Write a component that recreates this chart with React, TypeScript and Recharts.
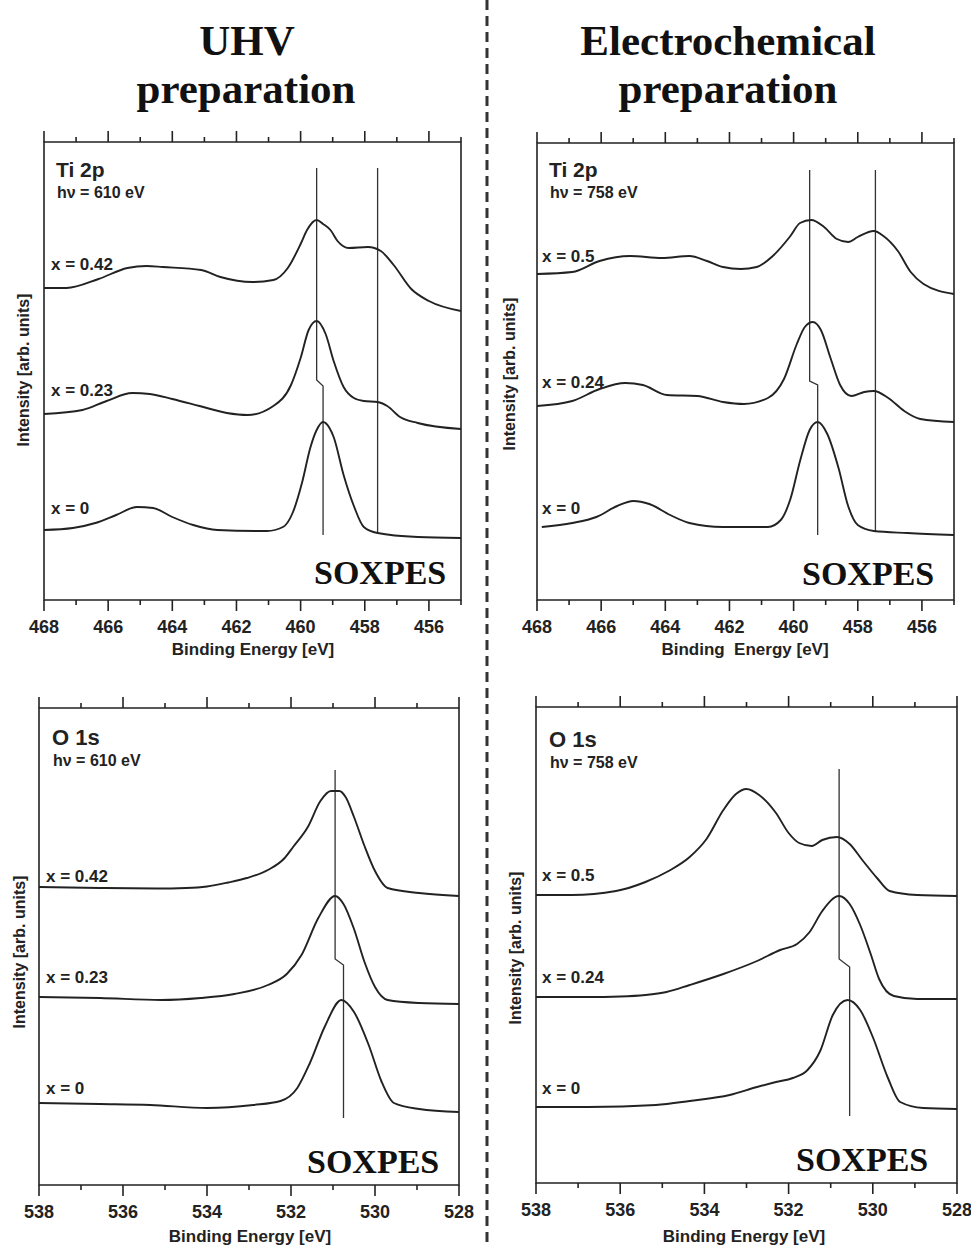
import React from "react";
import { LineChart, Line, XAxis, YAxis, ReferenceArea } from "recharts";

type Pt = [number, number];

// binding energy [eV], intensity [arb. units] (offset stacked as in the figure)
// --- Ti 2p, UHV preparation (hv = 610 eV)
const tiUhv042: Pt[] = [[468, 312], [467.3, 312], [466.3, 321], [465.4, 332], [464.8, 334], [464.3, 333], [463.1, 330], [462.5, 323], [461.5, 318], [460.85, 320], [460.4, 332], [460.0, 356], [459.8, 370], [459.5, 380], [459.3, 376], [459.07, 370], [458.85, 359], [458.5, 352], [457.9, 353], [457.5, 349], [457.1, 335], [456.55, 311], [456.0, 299], [455, 289]];
const tiUhv023: Pt[] = [[468, 186], [466.8, 190], [466.05, 199], [465.25, 207], [464.7, 206], [464.0, 201], [463.15, 194], [462.3, 187], [461.65, 185], [460.85, 194], [460.3, 215], [460.0, 242], [459.75, 270], [459.5, 279], [459.22, 266], [458.97, 239], [458.66, 213], [458.34, 202], [458.03, 199], [457.6, 198], [457.3, 194], [456.9, 183], [456.35, 177], [455, 171]];
const tiUhv0: Pt[] = [[468, 70], [467.1, 72], [466.4, 77], [465.75, 85], [465.1, 93], [464.6, 92], [464.0, 83], [463.35, 75], [462.6, 70], [461.05, 69], [460.55, 73], [460.25, 87], [459.95, 118], [459.7, 152], [459.5, 170], [459.3, 178], [459.1, 172], [458.97, 163], [458.66, 125], [458.34, 94], [458.03, 73], [457.6, 67], [456.35, 63], [455, 62]];
const tiUhvGuideA: Pt[] = [[459.5, 432], [459.5, 220], [459.3, 214], [459.3, 65]];
const tiUhvGuideB: Pt[] = [[457.6, 432], [457.6, 66]];

// --- Ti 2p, electrochemical preparation (hv = 758 eV)
const tiEc05: Pt[] = [[468, 326], [466.9, 328], [466.05, 339], [465.1, 344], [464.1, 342], [463.25, 344], [462.7, 339], [462.2, 333], [461.65, 331], [461.15, 333], [460.65, 344], [460.1, 364], [459.8, 377], [459.45, 380], [459.05, 373], [458.65, 361], [458.3, 358], [458.0, 363], [457.5, 369], [457.2, 364], [456.75, 349], [456.35, 328], [455.95, 316], [455, 306]];
const tiEc024: Pt[] = [[468, 194], [466.9, 199], [466.05, 211], [465.25, 217], [464.7, 215], [463.95, 205], [463.0, 204], [462.2, 198], [461.55, 196], [460.8, 202], [460.3, 221], [459.9, 256], [459.65, 273], [459.4, 278], [459.15, 270], [458.85, 242], [458.55, 215], [458.2, 204], [457.8, 208], [457.5, 209], [457.05, 202], [456.55, 189], [456.05, 181], [455, 178]];
const tiEc0: Pt[] = [[467.85, 73], [466.9, 77], [466.15, 83], [465.5, 94], [465.0, 99], [464.5, 96], [463.85, 85], [463.25, 77], [462.2, 73], [460.8, 73], [460.4, 80], [460.1, 101], [459.8, 139], [459.5, 170], [459.25, 178], [458.95, 166], [458.6, 132], [458.3, 94], [458.0, 75], [457.5, 69], [456.45, 67], [455, 65]];
const tiEcGuideA: Pt[] = [[459.5, 430], [459.5, 219], [459.25, 215], [459.25, 65]];
const tiEcGuideB: Pt[] = [[457.45, 430], [457.45, 68]];

// --- O 1s, UHV preparation (hv = 610 eV)
const oUhv042: Pt[] = [[538, 298], [536.55, 297], [535.2, 296.5], [534.5, 297], [534.0, 298.5], [533.5, 302.5], [533.05, 307], [532.55, 315], [532.15, 327], [531.95, 338], [531.6, 358], [531.3, 384], [531.05, 394], [530.85, 394], [530.7, 388], [530.5, 368], [530.25, 339], [530.0, 314], [529.7, 297], [528.95, 292], [528, 289]];
const oUhv023: Pt[] = [[538, 188], [536.55, 187], [535.1, 185], [534.15, 187], [533.35, 191], [532.55, 200], [532.1, 211], [531.75, 230], [531.35, 267], [530.95, 289], [530.75, 281], [530.5, 256], [530.25, 223], [530.0, 198], [529.7, 185], [528.95, 182], [528, 181]];
const oUhv0: Pt[] = [[538, 82], [536.55, 81], [535.35, 80], [534.0, 77], [532.9, 80], [532.25, 84], [531.85, 97], [531.55, 122], [531.2, 158], [530.8, 185], [530.5, 173], [530.15, 140], [529.85, 104], [529.55, 82], [528.95, 76], [528, 73]];
const oUhvGuide: Pt[] = [[530.95, 415], [530.95, 226], [530.75, 220], [530.75, 67]];

// --- O 1s, electrochemical preparation (hv = 758 eV)
const oEc05: Pt[] = [[538, 288], [537.15, 288], [536.1, 292], [535.4, 301], [534.85, 312], [534.35, 326], [533.95, 344], [533.55, 373], [533.25, 389], [533.0, 394], [532.7, 388], [532.3, 370], [532.0, 350], [531.75, 340], [531.45, 337], [531.2, 343], [530.85, 346], [530.55, 339], [530.25, 323], [529.9, 305], [529.6, 292], [528.95, 288], [528, 287]];
const oEc024: Pt[] = [[538, 186], [536.75, 186], [536.0, 186.5], [535.4, 188], [534.9, 191], [534.35, 198], [533.55, 209], [532.75, 222], [532.2, 233], [531.8, 239], [531.5, 251], [531.2, 272], [530.8, 287], [530.55, 279], [530.3, 258], [530.05, 229], [529.85, 204], [529.5, 187], [528.95, 184], [528, 184]];
const oEc0: Pt[] = [[538, 76], [536.75, 76], [535.15, 78], [534.35, 82], [533.4, 88], [532.75, 96], [532.3, 101], [531.9, 105], [531.55, 113], [531.25, 132], [530.95, 168], [530.6, 183], [530.3, 173], [530.0, 146], [529.65, 106], [529.35, 81], [528.8, 75], [528, 74]];
const oEcGuide: Pt[] = [[530.8, 414], [530.8, 224], [530.55, 216], [530.55, 67]];

const tiTicks = [468, 467, 466, 465, 464, 463, 462, 461, 460, 459, 458, 457, 456, 455];
const oTicks = [538, 537, 536, 535, 534, 533, 532, 531, 530, 529, 528];

const SANS = '"Liberation Sans", Arial, Helvetica, sans-serif';
const SERIF = '"Liberation Serif", "Times New Roman", serif';
const INK = "#222";

const rows = (pts: Pt[]) => pts.map(([e, i]) => ({ e, i }));

function BottomTick(props: any) {
  const { x, y, payload } = props;
  const major = payload.value % 2 === 0;
  return (
    <g>
      <line x1={x} y1={y} x2={x} y2={y + (major ? 11 : 5)} stroke={INK} strokeWidth={1.6} />
      {major && (
        <text x={x} y={y + 33} textAnchor="middle" fontSize={18} fontWeight="bold" fill={INK} fontFamily={SANS}>
          {payload.value}
        </text>
      )}
    </g>
  );
}

function TopTick(props: any) {
  const { x, y, payload } = props;
  const major = payload.value % 2 === 0;
  return <line x1={x} y1={y} x2={x} y2={y - (major ? 11 : 5)} stroke={INK} strokeWidth={1.6} />;
}

interface PanelProps {
  left: number;
  top: number;
  w: number;
  h: number;
  domain: [number, number];
  ticks: number[];
  curves: Pt[][];
  guides: Pt[][];
}

function Panel({ left, top, w, h, domain, ticks, curves, guides }: PanelProps) {
  const m = { top: 4, right: 24, left: 24, bottom: 0 };
  const topAxisH = 16;
  const bottomAxisH = 40;
  return (
    <div style={{ position: "absolute", left: left - m.left, top: top - m.top - topAxisH }}>
      <LineChart width={w + m.left + m.right} height={h + m.top + topAxisH + bottomAxisH} margin={m}>
        <XAxis
          dataKey="e"
          type="number"
          domain={domain}
          reversed
          ticks={ticks}
          interval={0}
          height={bottomAxisH}
          axisLine={false}
          tickLine={false}
          tickSize={0}
          tickMargin={0}
          tick={<BottomTick />}
          allowDataOverflow
        />
        <XAxis
          xAxisId="top"
          orientation="top"
          dataKey="e"
          type="number"
          domain={domain}
          reversed
          ticks={ticks}
          interval={0}
          height={topAxisH}
          axisLine={false}
          tickLine={false}
          tickSize={0}
          tickMargin={0}
          tick={<TopTick />}
          allowDataOverflow
        />
        <YAxis hide type="number" domain={[0, h]} allowDataOverflow />
        <ReferenceArea x1={domain[0]} x2={domain[1]} y1={0} y2={h} fill="none" stroke={INK} strokeWidth={1.6} ifOverflow="visible" />
        {guides.map((g, k) => (
          <Line key={"g" + k} data={rows(g)} dataKey="i" type="linear" stroke="#333" strokeWidth={1.3} dot={false} isAnimationActive={false} />
        ))}
        {curves.map((c, k) => (
          <Line key={"c" + k} data={rows(c)} dataKey="i" type="monotone" stroke={INK} strokeWidth={1.9} dot={false} isAnimationActive={false} />
        ))}
      </LineChart>
    </div>
  );
}

function Txt({ x, y, size, children, serif = false, center = false }: any) {
  return (
    <div
      style={{
        position: "absolute",
        left: x,
        top: y,
        transform: center ? "translate(-50%, -50%)" : "translateY(-50%)",
        fontSize: size,
        lineHeight: 1,
        fontWeight: "bold",
        fontFamily: serif ? SERIF : SANS,
        color: serif ? "#111" : INK,
        whiteSpace: "pre",
      }}
    >
      {children}
    </div>
  );
}

function VTxt({ x, y, children }: any) {
  return (
    <div
      style={{
        position: "absolute",
        left: x,
        top: y,
        transform: "translate(-50%, -50%) rotate(-90deg)",
        fontSize: 16,
        lineHeight: 1,
        fontWeight: "bold",
        fontFamily: SANS,
        color: INK,
        whiteSpace: "nowrap",
      }}
    >
      {children}
    </div>
  );
}

export default function App() {
  return (
    <div style={{ position: "absolute", left: 0, top: 0, width: 971, height: 1246, background: "#fff", overflow: "hidden" }}>
      {/* column headings */}
      <Txt x={247} y={40} size={43} serif center>UHV</Txt>
      <Txt x={246} y={88} size={43} serif center>preparation</Txt>
      <Txt x={728} y={40} size={43} serif center>Electrochemical</Txt>
      <Txt x={728} y={88} size={43} serif center>preparation</Txt>

      <svg width={971} height={1246} style={{ position: "absolute", left: 0, top: 0 }}>
        <line x1={487} y1={0} x2={487} y2={1246} stroke="#333" strokeWidth={3} strokeDasharray="10 6" />
      </svg>

      {/* Ti 2p UHV */}
      <Panel left={44} top={142} w={417} h={458} domain={[455, 468]} ticks={tiTicks} curves={[tiUhv042, tiUhv023, tiUhv0]} guides={[tiUhvGuideA, tiUhvGuideB]} />
      <Txt x={56} y={169} size={21}>Ti 2p</Txt>
      <Txt x={57} y={193} size={16}>hν = 610 eV</Txt>
      <Txt x={51} y={264} size={17}>x = 0.42</Txt>
      <Txt x={51} y={390} size={17}>x = 0.23</Txt>
      <Txt x={51} y={508} size={17}>x = 0</Txt>
      <Txt x={314} y={573} size={34} serif>SOXPES</Txt>
      <VTxt x={24} y={370}>Intensity [arb. units]</VTxt>
      <Txt x={253} y={649} size={17} center>Binding Energy [eV]</Txt>

      {/* Ti 2p electrochemical */}
      <Panel left={537} top={143} w={417} h={457} domain={[455, 468]} ticks={tiTicks} curves={[tiEc05, tiEc024, tiEc0]} guides={[tiEcGuideA, tiEcGuideB]} />
      <Txt x={549} y={169} size={21}>Ti 2p</Txt>
      <Txt x={550} y={193} size={16}>hν = 758 eV</Txt>
      <Txt x={542} y={256} size={17}>x = 0.5</Txt>
      <Txt x={542} y={382} size={17}>x = 0.24</Txt>
      <Txt x={542} y={508} size={17}>x = 0</Txt>
      <Txt x={802} y={574} size={34} serif>SOXPES</Txt>
      <VTxt x={510} y={374}>Intensity [arb. units]</VTxt>
      <Txt x={745} y={649} size={17} center>{"Binding  Energy [eV]"}</Txt>

      {/* O 1s UHV */}
      <Panel left={39} top={708} w={420} h={477} domain={[528, 538]} ticks={oTicks} curves={[oUhv042, oUhv023, oUhv0]} guides={[oUhvGuide]} />
      <Txt x={52} y={738} size={22}>O 1s</Txt>
      <Txt x={53} y={761} size={16}>hν = 610 eV</Txt>
      <Txt x={46} y={876} size={17}>x = 0.42</Txt>
      <Txt x={46} y={977} size={17}>x = 0.23</Txt>
      <Txt x={46} y={1088} size={17}>x = 0</Txt>
      <Txt x={307} y={1162} size={34} serif>SOXPES</Txt>
      <VTxt x={20} y={952}>Intensity [arb. units]</VTxt>
      <Txt x={250} y={1236} size={17} center>Binding Energy [eV]</Txt>

      {/* O 1s electrochemical */}
      <Panel left={536} top={707} w={421} h={476} domain={[528, 538]} ticks={oTicks} curves={[oEc05, oEc024, oEc0]} guides={[oEcGuide]} />
      <Txt x={549} y={740} size={22}>O 1s</Txt>
      <Txt x={550} y={763} size={16}>hν = 758 eV</Txt>
      <Txt x={542} y={875} size={17}>x = 0.5</Txt>
      <Txt x={542} y={977} size={17}>x = 0.24</Txt>
      <Txt x={542} y={1088} size={17}>x = 0</Txt>
      <Txt x={796} y={1160} size={34} serif>SOXPES</Txt>
      <VTxt x={516} y={948}>Intensity [arb. units]</VTxt>
      <Txt x={744} y={1236} size={17} center>Binding Energy [eV]</Txt>
    </div>
  );
}
